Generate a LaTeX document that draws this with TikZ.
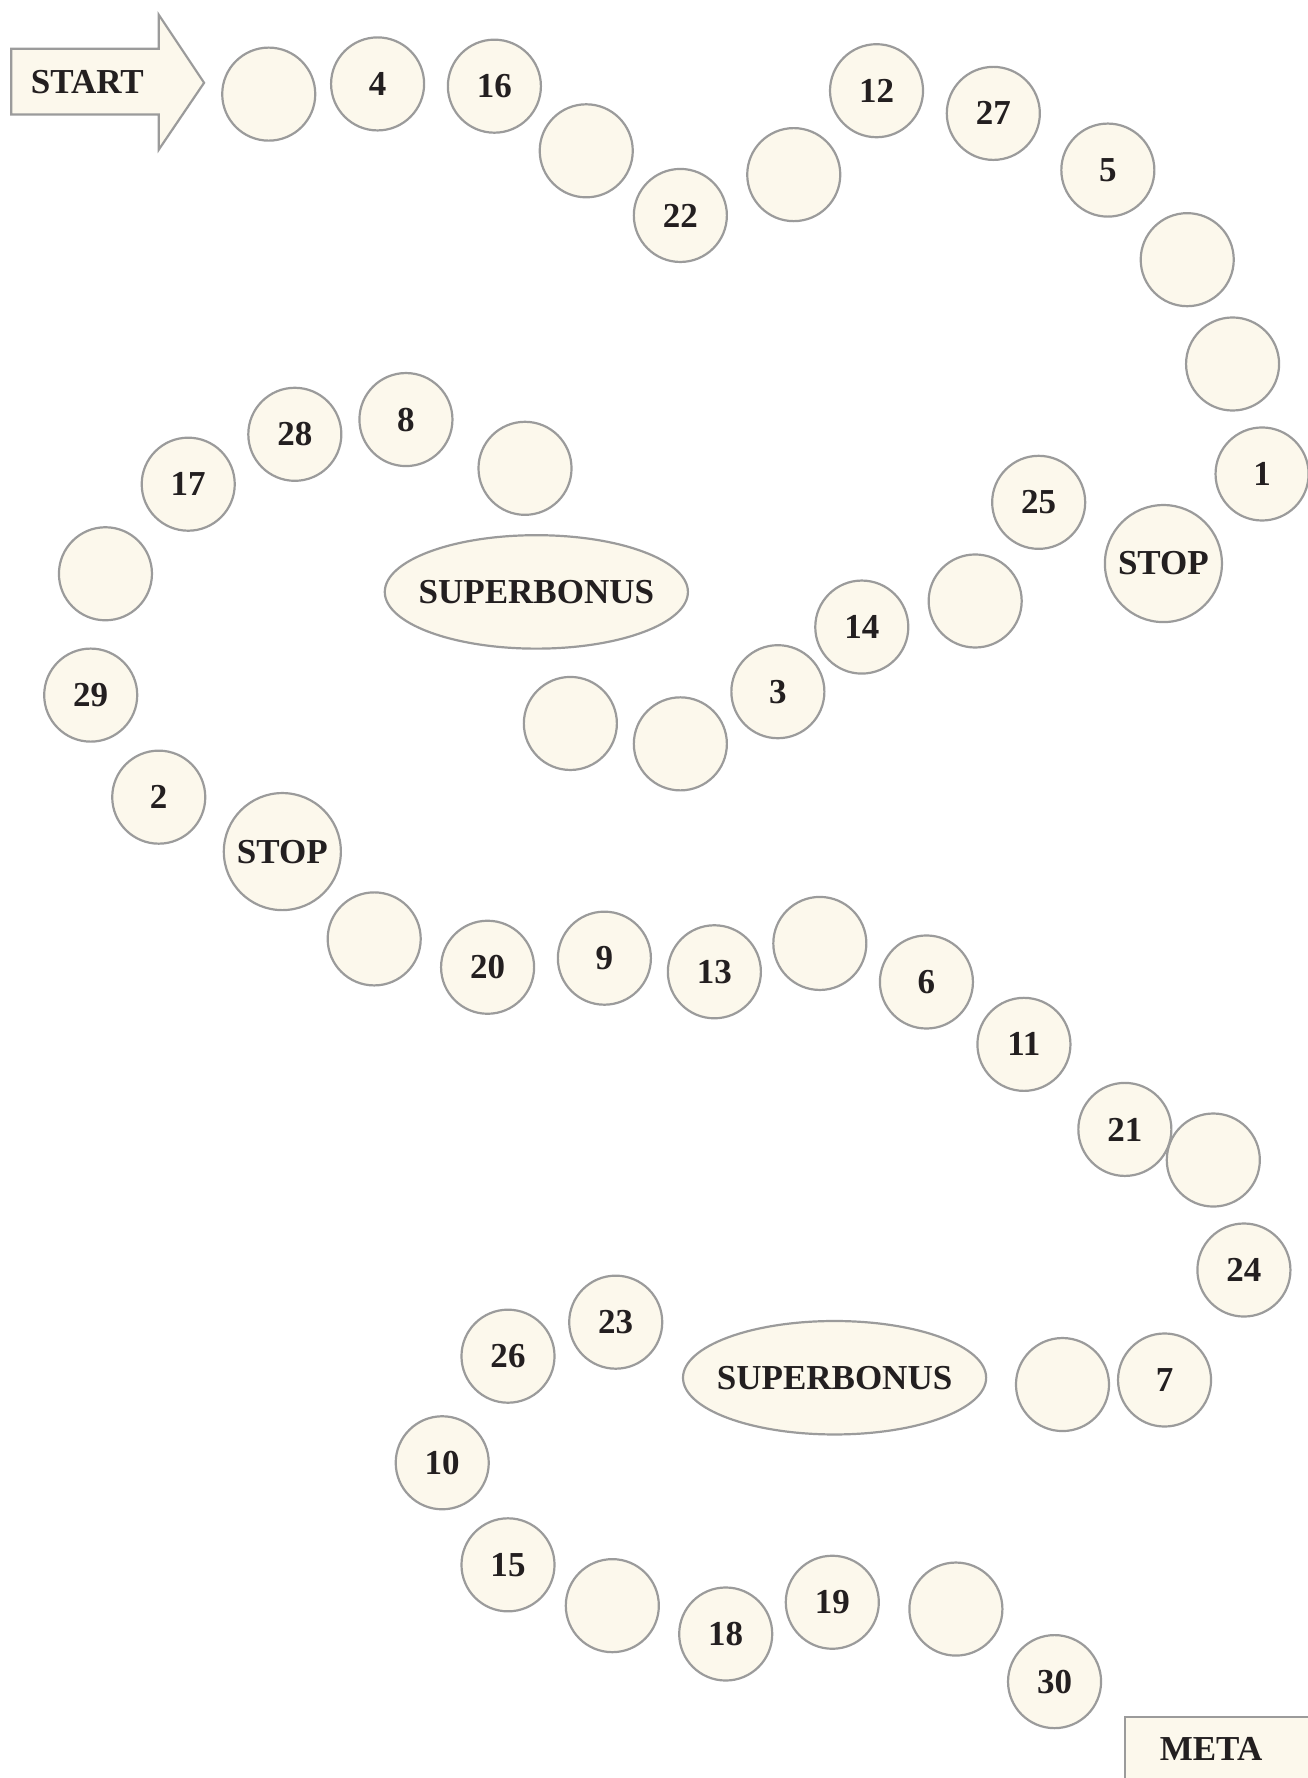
\documentclass[tikz,border=0pt]{standalone}
\usepackage{fontspec}
\setmainfont{Liberation Serif}
\usetikzlibrary{shapes.geometric}
\definecolor{cream}{HTML}{FCF8EC}
\definecolor{rim}{HTML}{9B9B9B}
\definecolor{ink}{HTML}{231F20}
\begin{document}
\begin{tikzpicture}[x=0.5667pt,y=-0.5667pt,
  lbl/.style={text=ink,font=\fontsize{17.5}{19}\selectfont\bfseries},
  field/.style={circle,draw=rim,fill=cream,line width=1.1pt,minimum size=46.5pt,inner sep=0pt,lbl},
  stopfield/.style={field,minimum size=58.5pt},
  bonus/.style={ellipse,draw=rim,fill=cream,line width=1.1pt,minimum width=151.5pt,minimum height=56.7pt,inner sep=0pt},
  shapeline/.style={draw=rim,fill=cream,line width=1.1pt,line join=miter}]
\useasboundingbox (0,0) rectangle (1153,1568);
% start arrow
\draw[shapeline] (10,43) -- (140,43) -- (140,13) -- (180,73) -- (140,132) -- (140,101) -- (10,101) -- cycle;
\node[lbl] (start) at (77,72) {START};
% meta box
\draw[shapeline] (992,1514) rectangle (1200,1620);
\node[lbl] (meta) at (1068,1542) {META};
% path fields
\node[field] (f01) at (237,83) {};
\node[field] (f02) at (333,74) {4};
\node[field] (f03) at (436,76) {16};
\node[field] (f04) at (517,133) {};
\node[field] (f05) at (600,190) {22};
\node[field] (f06) at (700,154) {};
\node[field] (f07) at (773,80) {12};
\node[field] (f08) at (876,100) {27};
\node[field] (f09) at (977,150) {5};
\node[field] (f10) at (1047,229) {};
\node[field] (f11) at (1087,321) {};
\node[field] (f12) at (1113,418) {1};
\node[stopfield] (f13) at (1026,497) {STOP};
\node[field] (f14) at (916,443) {25};
\node[field] (f15) at (860,530) {};
\node[field] (f16) at (760,553) {14};
\node[field] (f17) at (686,610) {3};
\node[field] (f18) at (600,656) {};
\node[field] (f19) at (503,638) {};
\node[bonus] (b1) at (473,522) {};
\node[lbl] (b1t) at (b1.center) {SUPERBONUS};
\node[field] (f20) at (463,413) {};
\node[field] (f21) at (358,370) {8};
\node[field] (f22) at (260,383) {28};
\node[field] (f23) at (166,427) {17};
\node[field] (f24) at (93,506) {};
\node[field] (f25) at (80,613) {29};
\node[field] (f26) at (140,703) {2};
\node[stopfield] (f27) at (249,751) {STOP};
\node[field] (f28) at (330,828) {};
\node[field] (f29) at (430,853) {20};
\node[field] (f30) at (533,845) {9};
\node[field] (f31) at (630,857) {13};
\node[field] (f32) at (723,832) {};
\node[field] (f33) at (817,866) {6};
\node[field] (f34) at (903,921) {11};
\node[field] (f35) at (992,996) {21};
\node[field] (f36) at (1070,1023) {};
\node[field] (f37) at (1097,1120) {24};
\node[field] (f38) at (1027,1217) {7};
\node[field] (f39) at (937,1221) {};
\node[bonus] (b2) at (736,1215) {};
\node[lbl] (b2t) at (b2.center) {SUPERBONUS};
\node[field] (f40) at (543,1166) {23};
\node[field] (f41) at (448,1196) {26};
\node[field] (f42) at (390,1290) {10};
\node[field] (f43) at (448,1380) {15};
\node[field] (f44) at (540,1416) {};
\node[field] (f45) at (640,1441) {18};
\node[field] (f46) at (734,1413) {19};
\node[field] (f47) at (843,1419) {};
\node[field] (f48) at (930,1483) {30};
\end{tikzpicture}
\end{document}
